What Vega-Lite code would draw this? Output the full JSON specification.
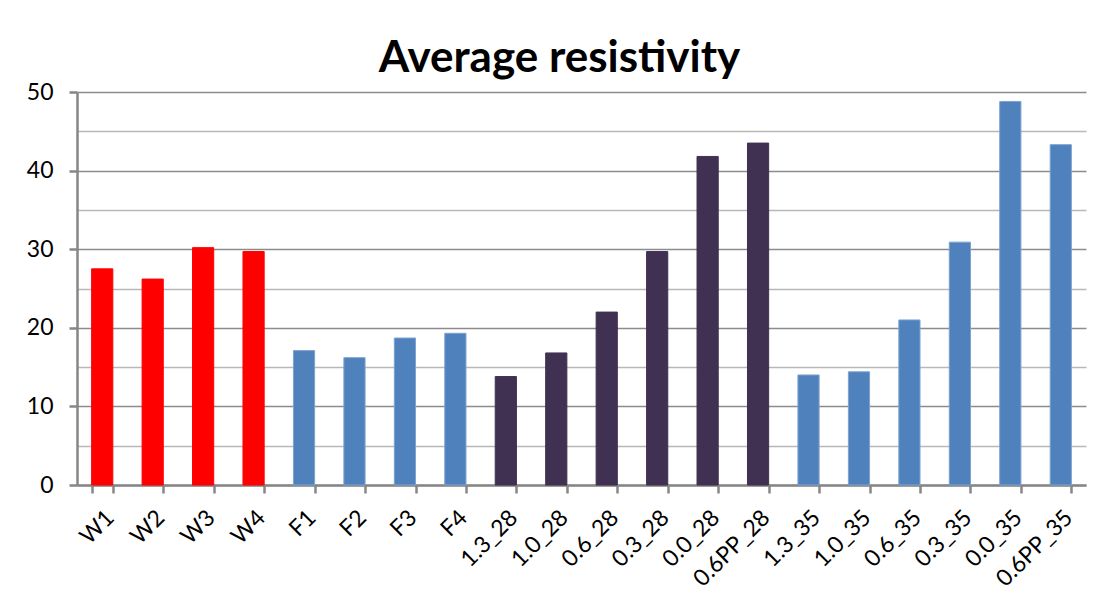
{
  "$schema": "https://vega.github.io/schema/vega-lite/v6.json",
  "width": 1009,
  "height": 393,
  "autosize": {"type": "none"},
  "padding": {"left": 77, "top": 92, "right": 23, "bottom": 125},
  "background": "white",
  "title": {
    "text": "Average resistivity",
    "font": "Lato",
    "fontSize": 44,
    "fontWeight": "bold",
    "color": "#000000",
    "anchor": "middle",
    "dx": -22,
    "offset": 0
  },
  "config": {
    "view": {"stroke": null},
    "axis": {"labelFont": "Lato", "labelFontSize": 23, "labelColor": "#000000"}
  },
  "data": {
    "values": [
      {"sample": "W1", "group": "W", "resistivity": 27.5},
      {"sample": "W2", "group": "W", "resistivity": 26.2},
      {"sample": "W3", "group": "W", "resistivity": 30.2},
      {"sample": "W4", "group": "W", "resistivity": 29.7},
      {"sample": "F1", "group": "F", "resistivity": 17.1},
      {"sample": "F2", "group": "F", "resistivity": 16.2},
      {"sample": "F3", "group": "F", "resistivity": 18.7},
      {"sample": "F4", "group": "F", "resistivity": 19.3},
      {"sample": "1.3_28", "group": "28", "resistivity": 13.8},
      {"sample": "1.0_28", "group": "28", "resistivity": 16.8},
      {"sample": "0.6_28", "group": "28", "resistivity": 22.0},
      {"sample": "0.3_28", "group": "28", "resistivity": 29.7},
      {"sample": "0.0_28", "group": "28", "resistivity": 41.8},
      {"sample": "0.6PP_28", "group": "28", "resistivity": 43.5},
      {"sample": "1.3_35", "group": "35", "resistivity": 14.0},
      {"sample": "1.0_35", "group": "35", "resistivity": 14.4},
      {"sample": "0.6_35", "group": "35", "resistivity": 21.0},
      {"sample": "0.3_35", "group": "35", "resistivity": 30.9},
      {"sample": "0.0_35", "group": "35", "resistivity": 48.8},
      {"sample": "0.6PP_35", "group": "35", "resistivity": 43.3}
    ]
  },
  "mark": {"type": "bar", "strokeWidth": 1},
  "encoding": {
    "x": {
      "field": "sample",
      "type": "nominal",
      "sort": null,
      "title": null,
      "scale": {"paddingInner": 0.58, "paddingOuter": 0.29},
      "axis": {
        "labelAngle": -45,
        "tickBand": "extent",
        "tickSize": 8,
        "tickWidth": 2.5,
        "tickColor": "#868686",
        "domainColor": "#868686",
        "domainWidth": 2.5,
        "labelPadding": 13,
        "grid": false
      }
    },
    "y": {
      "field": "resistivity",
      "type": "quantitative",
      "title": null,
      "scale": {"domain": [0, 50], "nice": false},
      "axis": {
        "values": [0, 5, 10, 15, 20, 25, 30, 35, 40, 45, 50],
        "labelExpr": "datum.value % 10 === 0 ? datum.label : ''",
        "grid": true,
        "gridColor": {"condition": {"test": "datum.value % 10 === 0", "value": "#8c8c8c"}, "value": "#b8b8b8"},
        "gridWidth": 1.6,
        "tickOpacity": {"condition": {"test": "datum.value % 10 === 0", "value": 1}, "value": 0},
        "tickSize": 8,
        "tickWidth": 2.5,
        "tickColor": "#868686",
        "domainColor": "#868686",
        "domainWidth": 2.5,
        "labelPadding": 16
      }
    },
    "color": {
      "field": "group",
      "type": "nominal",
      "legend": null,
      "scale": {"domain": ["W", "F", "28", "35"], "range": ["#ff0000", "#4f81bd", "#403152", "#4f81bd"]}
    },
    "stroke": {
      "field": "group",
      "type": "nominal",
      "legend": null,
      "scale": {"domain": ["W", "F", "28", "35"], "range": ["#ff0000", "#7ea2d0", "#403152", "#7ea2d0"]}
    }
  }
}
